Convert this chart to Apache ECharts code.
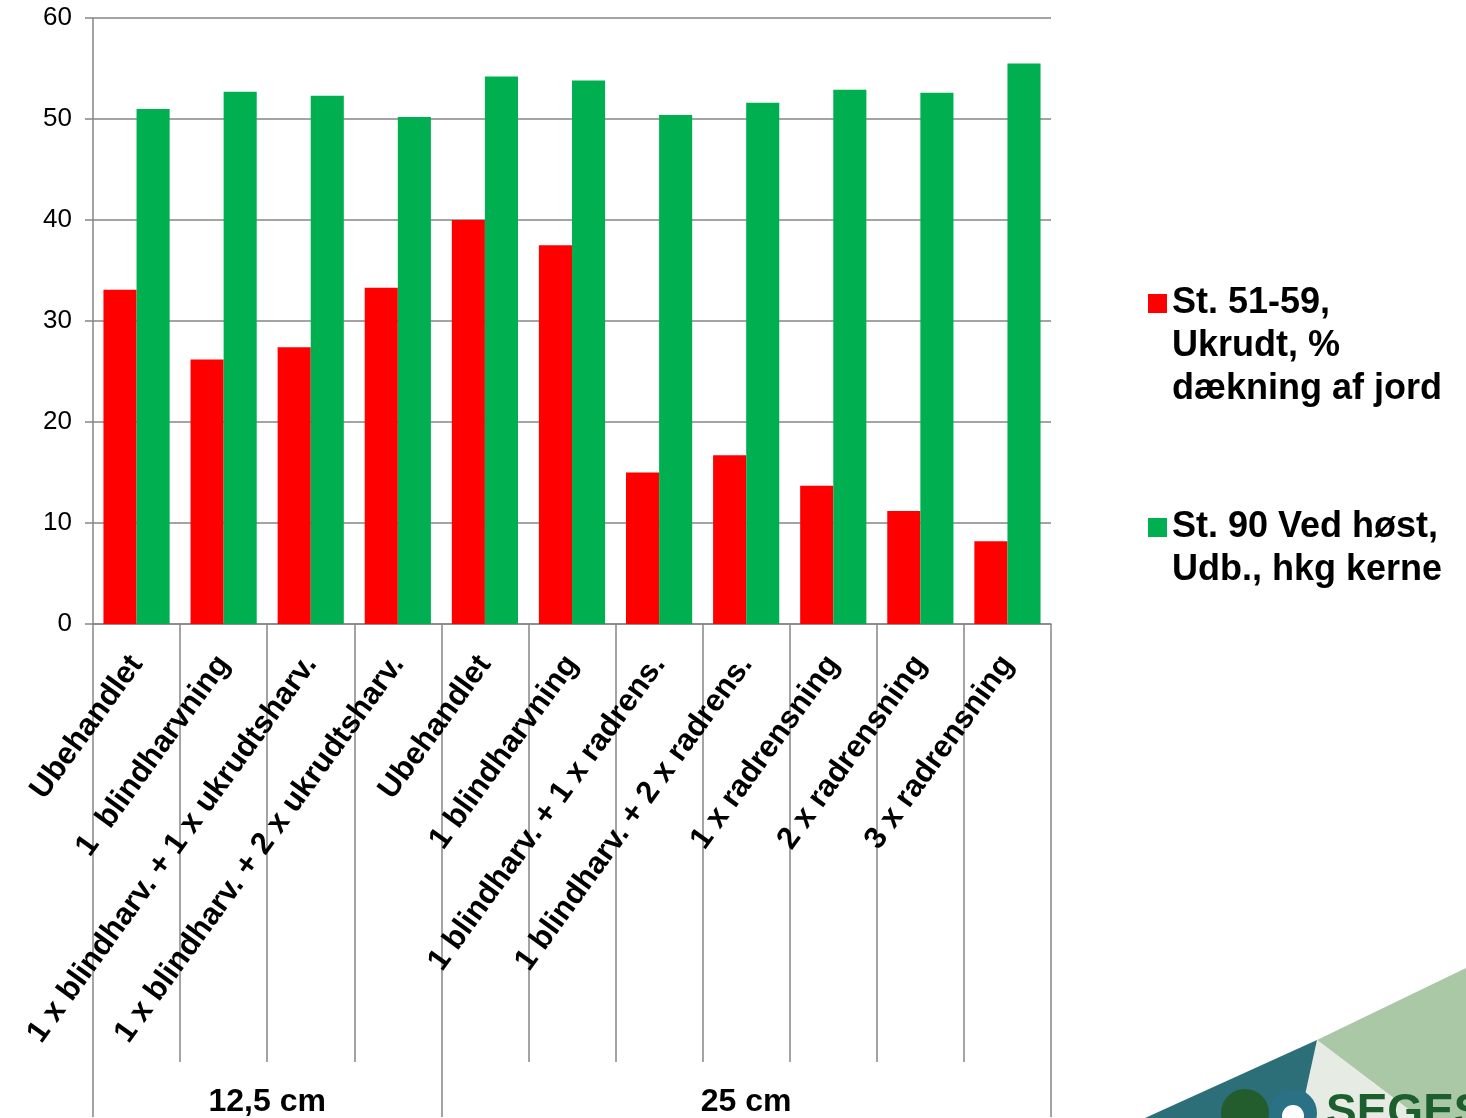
<!DOCTYPE html>
<html>
<head>
<meta charset="utf-8">
<script src="https://cdn.jsdelivr.net/npm/echarts@6/dist/echarts.min.js"></script>
<style>
html,body{margin:0;padding:0;background:#fff;}
#chart{width:1466px;height:1118px;}
</style>
</head>
<body>
<div id="chart"></div>
<script>
var categories = [
  'Ubehandlet',
  '1  blindharvning',
  '1 x blindharv. + 1 x ukrudtsharv.',
  '1 x blindharv. + 2 x ukrudtsharv.',
  'Ubehandlet',
  '1 blindharvning',
  '1 blindharv. + 1 x radrens.',
  '1 blindharv. + 2 x radrens.',
  '1 x radrensning',
  '2 x radrensning',
  '3 x radrensning'
];
var groupLabels = ['12,5 cm', '25 cm'];
var groupSizes = [4, 7];
var seriesNames = ['St. 51-59,\nUkrudt, %\ndækning af jord', 'St. 90 Ved høst,\nUdb., hkg kerne'];
var weedCover = [33.1, 26.2, 27.4, 33.3, 40.0, 37.5, 15.0, 16.7, 13.7, 11.2, 8.2];
var yieldHkg = [51.0, 52.7, 52.3, 50.2, 54.2, 53.8, 50.4, 51.6, 52.9, 52.6, 55.5];
var yTicks = [0, 10, 20, 30, 40, 50, 60];

// group axis built on half-category boundary points
var nHalf = categories.length * 2 + 1;
var groupAxisData = [];
for (var i = 0; i < nHalf; i++) groupAxisData.push('');
var boundaryIdx = [0];
var labelIdx = [];
var acc = 0;
for (var g = 0; g < groupSizes.length; g++) {
  labelIdx.push(acc * 2 + groupSizes[g]);
  groupAxisData[acc * 2 + groupSizes[g]] = groupLabels[g];
  acc += groupSizes[g];
  boundaryIdx.push(acc * 2);
}

// prepend blank lines so the legend icon sits beside the first text line
function legendFormatter(name) {
  var n = name.split('\n').length - 1;
  var pre = '';
  for (var k = 0; k < n; k++) pre += '\n';
  return pre + name;
}

var grey = '#868686';
var chart = echarts.init(document.getElementById('chart'), null, {renderer: 'canvas'});

var legendText = {fontSize: 36, fontWeight: 'bold', color: '#000', lineHeight: 43};

var option = {
  backgroundColor: '#ffffff',
  animation: false,
  textStyle: {fontFamily: 'Liberation Sans, Arial, sans-serif'},
  grid: {left: 93, right: 415, top: 18, bottom: 493, containLabel: false},
  legend: [
    {
      data: [seriesNames[0]],
      orient: 'vertical',
      left: 1148,
      top: 196,
      padding: 0,
      itemWidth: 19,
      itemHeight: 19,
      icon: 'rect',
      selectedMode: false,
      formatter: legendFormatter,
      textStyle: legendText
    },
    {
      data: [seriesNames[1]],
      orient: 'vertical',
      left: 1148,
      top: 463,
      padding: 0,
      itemWidth: 19,
      itemHeight: 19,
      icon: 'rect',
      selectedMode: false,
      formatter: legendFormatter,
      textStyle: legendText
    }
  ],
  xAxis: [
    {
      type: 'category',
      data: categories,
      position: 'bottom',
      axisLine: {show: true, lineStyle: {color: grey, width: 1.5}},
      axisTick: {show: true, length: 438, interval: 0, lineStyle: {color: grey, width: 1.5}},
      axisLabel: {
        interval: 0, rotate: 54, margin: 35,
        fontSize: 31, fontWeight: 'bold', color: '#000'
      },
      splitLine: {show: false}
    },
    {
      type: 'category',
      data: groupAxisData,
      position: 'bottom',
      boundaryGap: false,
      axisLine: {show: false},
      axisTick: {
        show: true, length: 493,
        interval: function (idx) { return boundaryIdx.indexOf(idx) >= 0; },
        lineStyle: {color: grey, width: 1.5}
      },
      axisLabel: {
        interval: function (idx) { return labelIdx.indexOf(idx) >= 0; },
        margin: 462, fontSize: 32, fontWeight: 'bold', color: '#000'
      },
      splitLine: {show: false}
    }
  ],
  yAxis: {
    type: 'value',
    min: yTicks[0],
    max: yTicks[yTicks.length - 1],
    interval: 10,
    axisLine: {show: true, lineStyle: {color: grey, width: 1.5}},
    axisTick: {show: true, length: 8, lineStyle: {color: grey, width: 1.5}},
    axisLabel: {fontSize: 26, color: '#000', margin: 21},
    splitLine: {show: true, lineStyle: {color: grey, width: 1.5}}
  },
  series: [
    {
      name: seriesNames[0],
      type: 'bar',
      xAxisIndex: 0,
      data: weedCover,
      barGap: '0%',
      barCategoryGap: '24%',
      itemStyle: {color: '#FF0000'}
    },
    {
      name: seriesNames[1],
      type: 'bar',
      xAxisIndex: 0,
      data: yieldHkg,
      barGap: '0%',
      barCategoryGap: '24%',
      itemStyle: {color: '#00B050'}
    }
  ],
  graphic: [
    {type: 'polygon', silent: true, shape: {points: [[1317,1040],[1466,968],[1466,1118],[1420,1118]]}, style: {fill: '#aac7a6'}},
    {type: 'polygon', silent: true, shape: {points: [[1317,1040],[1420,1118],[1300,1118]]}, style: {fill: '#e6ebe4'}},
    {type: 'polygon', silent: true, shape: {points: [[1145,1118],[1317,1040],[1300,1118]]}, style: {fill: '#2c6f78'}},
    {type: 'circle', silent: true, shape: {cx: 1245, cy: 1113, r: 24}, style: {fill: '#235d2e'}},
    {type: 'circle', silent: true, shape: {cx: 1293, cy: 1113, r: 24}, style: {fill: '#2a7185'}},
    {type: 'circle', silent: true, shape: {cx: 1293, cy: 1116, r: 11}, style: {fill: '#ffffff'}},
    {type: 'text', silent: true, left: 1326, top: 1090, style: {text: 'SEGES', fontSize: 46, fontWeight: 'bold', fill: '#1d5e2e', fontFamily: 'Liberation Sans, Arial, sans-serif'}}
  ]
};
chart.setOption(option);
</script>
</body>
</html>
